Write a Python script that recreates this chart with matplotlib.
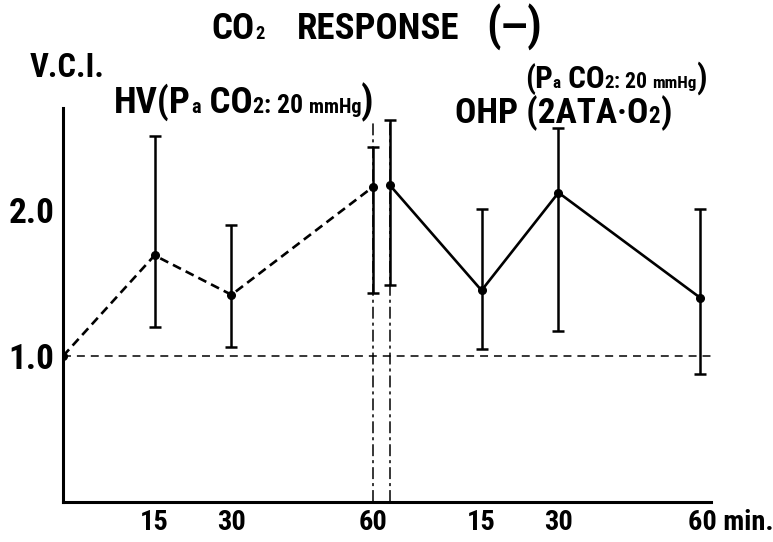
import numpy as np
import matplotlib
matplotlib.use("Agg")
import matplotlib.pyplot as plt
from matplotlib.transforms import offset_copy, ScaledTranslation
from matplotlib import font_manager as fm
from matplotlib.font_manager import FontProperties

# ---------------- data ----------------
hv_minutes = [0, 15, 30, 60]
hv_vci = [1.00, 1.69, 1.42, 2.16]
hv_low = [np.nan, 1.20, 1.06, 1.43]
hv_high = [np.nan, 2.51, 1.90, 2.43]

ohp_minutes = [0, 15, 30, 60]
ohp_vci = [2.17, 1.45, 2.12, 1.40]
ohp_low = [1.49, 1.05, 1.17, 0.88]
ohp_high = [2.62, 2.01, 2.56, 2.01]

y_ticks = [1.0, 2.0]
y_tick_labels = ["1.0", "2.0"]
x_tick_labels = ["15", "30", "60", "15", "30", "60 min."]
baseline_value = 1.0

# ---------------- layout helpers ----------------
P = 0.88            # compression of the drawn time axis
HV_END = 60.0
OHP_START = 70.0    # timeline position where the OHP session starts
UH = HV_END ** P
U0 = UH + 2.0


def fwd(x):
    x = np.asarray(x, dtype=float)
    a = np.sign(x) * np.abs(x) ** P
    b = UH + (x - HV_END) * (U0 - UH) / (OHP_START - HV_END)
    c = U0 + np.abs(x - OHP_START) ** P
    return np.where(x <= HV_END, a, np.where(x < OHP_START, b, c))


def inv(u):
    u = np.asarray(u, dtype=float)
    a = np.sign(u) * np.abs(u) ** (1 / P)
    b = HV_END + (u - UH) * (OHP_START - HV_END) / (U0 - UH)
    c = OHP_START + np.abs(u - U0) ** (1 / P)
    return np.where(u <= UH, a, np.where(u < U0, b, c))


available = {f.name for f in fm.fontManager.ttflist}
cands = ["Liberation Sans Narrow", "Roboto Condensed", "DejaVu Sans Condensed",
         "Open Sans Condensed", "Roboto", "DejaVu Sans"]
FONT = [c for c in cands if c in available] or ["DejaVu Sans"]
plt.rcParams["font.family"] = FONT[:1] + ["DejaVu Sans"]
plt.rcParams["font.weight"] = "heavy"
plt.rcParams["font.stretch"] = "condensed"
WEIGHT = "heavy"

W, H = 773, 542
fig = plt.figure(figsize=(W / 100, H / 100), dpi=100)
fig.patch.set_facecolor("white")
renderer = fig.canvas.get_renderer()


def size_for_cap(cap_px):
    fp = FontProperties(family=plt.rcParams["font.family"], weight=WEIGHT,
                        stretch="condensed", size=50)
    _, h, d = renderer.get_text_width_height_descent("H", fp, ismath=False)
    return 50 * cap_px / (h - d if d > 0.5 else h)


ax_l, ax_r, ax_b, ax_t = 63, 711, 502, 108
ax = fig.add_axes([ax_l / W, 1 - ax_b / H, (ax_r - ax_l) / W, (ax_b - ax_t) / H])
ax.set_xscale("function", functions=(fwd, inv))
ax.set_xlim(0, float(inv(U0 + 38.0)))
ax.set_ylim(0, 2.70)

ohp_x = [OHP_START + m for m in ohp_minutes]

# baseline
ax.axhline(baseline_value, color="black", lw=1.1, dashes=(5.2, 3.9), zorder=1)

# vertical dash-dot separators
ax.vlines([hv_minutes[-1]], 0, 2.60, color="black", lw=1.1,
          linestyles=[(0, (7.8, 2.6, 2.0, 2.6))], zorder=1)
ax.vlines([ohp_x[0]], 0, ohp_high[0], color="black", lw=1.1,
          linestyles=[(0, (7.8, 2.6, 2.0, 2.6))], zorder=1)

# HV series (dashed)
ax.plot(hv_minutes, hv_vci, color="black", lw=1.9, dashes=(3.4, 2.0), zorder=3)
ax.plot(hv_minutes, hv_vci, "o", color="black", ms=5.5, zorder=4)
hv_v = np.array(hv_vci)
ax.errorbar(hv_minutes, hv_v,
            yerr=[hv_v - np.array(hv_low), np.array(hv_high) - hv_v],
            fmt="none", ecolor="black", elinewidth=1.8, capsize=4.5, capthick=1.8,
            zorder=3)

# OHP series (solid)
ax.plot(ohp_x, ohp_vci, color="black", lw=1.9, zorder=3)
ax.plot(ohp_x, ohp_vci, "o", color="black", ms=5.5, zorder=4)
ohp_v = np.array(ohp_vci)
ax.errorbar(ohp_x, ohp_v,
            yerr=[ohp_v - np.array(ohp_low), np.array(ohp_high) - ohp_v],
            fmt="none", ecolor="black", elinewidth=1.8, capsize=4.5, capthick=1.8,
            zorder=3)

# spines
for s in ["top", "right"]:
    ax.spines[s].set_visible(False)
for s in ["left", "bottom"]:
    ax.spines[s].set_linewidth(2.2)

# ticks
ax.set_yticks(y_ticks)
ax.set_yticklabels(y_tick_labels, fontsize=size_for_cap(25), fontweight=WEIGHT)
xt = [m for m in hv_minutes[1:]] + [OHP_START + m for m in ohp_minutes[1:]]
ax.set_xticks(xt)
ax.set_xticklabels(x_tick_labels, fontsize=size_for_cap(20), fontweight=WEIGHT)
ax.xaxis.set_minor_locator(matplotlib.ticker.NullLocator())
ax.tick_params(axis="both", length=0)
ax.tick_params(axis="y", pad=6)
ax.tick_params(axis="x", pad=5)
last = ax.get_xticklabels()[-1]
last.set_horizontalalignment("left")
last.set_transform(last.get_transform() + ScaledTranslation(-12 / 100, 0, fig.dpi_scale_trans))


def rich_text(cx_px, base_px, cap_px, pieces):
    """pieces: list of (text, relative size); centred on cx_px, on one baseline."""
    big = size_for_cap(cap_px)
    total = 0.0
    for s, rel in pieces:
        t = fig.text(0, 0, s, fontsize=big * rel, fontweight=WEIGHT)
        total += t.get_window_extent(renderer).width
        t.remove()
    t_trans = fig.transFigure
    x, y = (cx_px - total / 2) / W, 1 - base_px / H
    for s, rel in pieces:
        t = fig.text(x, y, s, fontsize=big * rel, fontweight=WEIGHT,
                     va="baseline", ha="left", transform=t_trans)
        t.draw(renderer)
        ex = t.get_window_extent(renderer)
        t_trans = offset_copy(t_trans, fig=fig, x=ex.width, units="dots")


# title
rich_text(238, 39, 26, [("CO", 1.0), ("2", 0.5)])
rich_text(378, 39, 26, [("RESPONSE", 1.0)])
rich_text(514, 40, 28, [("(", 1.15), ("—", 1.0), (")", 1.15)])

# y label
rich_text(67, 77, 23, [("V.C.I.", 1.0)])

# HV label
rich_text(244, 113, 26, [("HV(P", 1.0), ("a", 0.55), (" CO", 1.0), ("2", 0.6),
                         (": 20 ", 0.7), ("mmHg", 0.55), (")", 1.05)])

# OHP labels
rich_text(616, 88, 22, [("(P", 1.0), ("a", 0.55), (" CO", 1.0), ("2", 0.6),
                        (": 20 ", 0.7), ("mmHg", 0.55), (")", 1.05)])
rich_text(563, 123, 25, [("OHP (2ATA", 1.0), ("·", 1.0), ("O", 1.0), ("2", 0.65),
                         (")", 1.0)])

fig.savefig("out.png", dpi=100, facecolor="white")
